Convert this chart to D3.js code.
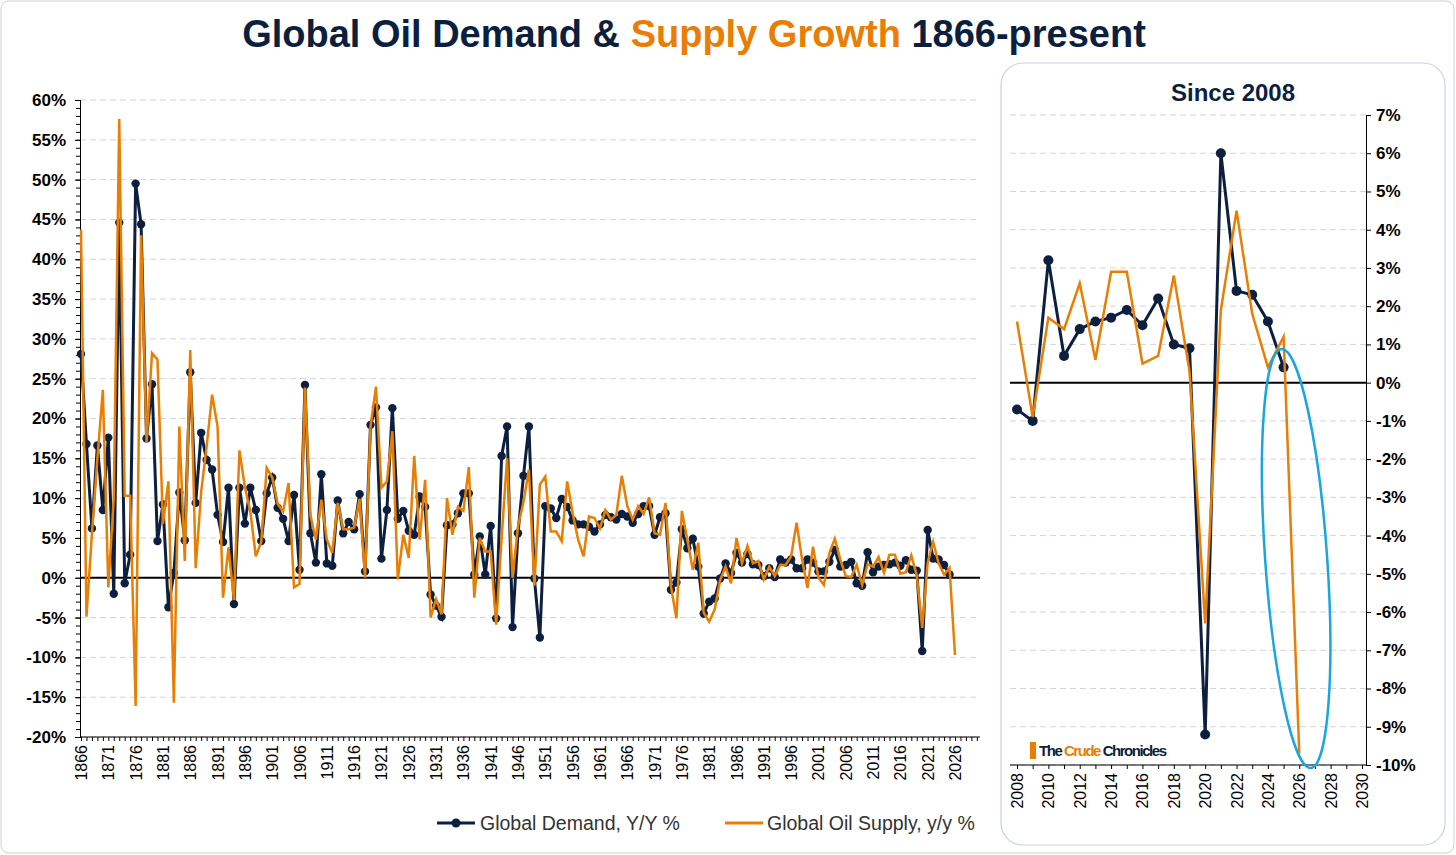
<!DOCTYPE html>
<html>
<head>
<meta charset="utf-8"/>
<script src="https://d3js.org/d3.v7.min.js"></script>
<style>
  body { margin: 0; background: #fff; font-family: "Liberation Sans", Arial, sans-serif; }
  text { font-family: "Liberation Sans", Arial, sans-serif; }
</style>
</head>
<body>
<svg id="chart" width="1456" height="855"></svg>
<script>
  // demand 1866..2025, supply 1866..2026 (y/y %)
  const demandYears = d3.range(1866, 2026);
  const supplyYears = d3.range(1866, 2027);
  const demand = [
    28.1,16.8,6.2,16.6,8.5,17.6,-2.0,44.6,-0.7,2.9,
    49.5,44.4,17.5,24.3,4.6,9.2,-3.7,0.6,10.7,4.7,
    25.8,9.4,18.2,14.8,13.6,7.9,4.5,11.3,-3.3,11.3,
    6.8,11.3,8.5,4.6,10.6,12.6,8.8,7.4,4.6,10.4,
    1.0,24.2,5.6,1.9,13.0,1.8,1.5,9.7,5.6,7.0,
    6.1,10.5,0.8,19.2,21.4,2.4,8.5,21.3,7.4,8.4,
    5.9,5.4,10.2,8.9,-2.1,-3.5,-4.9,6.6,6.7,8.1,
    10.6,10.6,0.4,5.2,0.4,6.5,-5.1,15.3,19.0,-6.2,
    5.6,12.8,19.0,-0.1,-7.5,9.0,8.7,7.5,9.9,8.9,
    7.2,6.7,6.7,6.4,5.8,6.7,7.9,7.6,7.3,8.0,
    7.7,6.9,8.0,9.0,9.0,5.4,7.6,8.1,-1.5,-0.6,
    6.1,3.7,4.9,1.4,-4.5,-3.0,-2.6,-0.1,1.8,0.6,
    3.1,1.9,3.0,1.7,1.6,0.2,1.2,0.1,2.3,1.9,
    2.3,1.2,1.2,2.3,1.9,0.8,0.8,2.0,3.5,1.4,
    1.6,2.0,-0.7,-1.0,3.2,0.7,1.4,1.6,1.7,1.9,
    1.5,2.2,1.0,0.9,-9.2,6.0,2.4,2.3,1.6,0.4
  ];
  const supply = [
    43.7,-4.9,5.5,15.0,23.6,-1.2,10.0,57.6,10.3,10.3,
    -16.1,43.0,17.0,28.2,27.4,6.8,12.1,-15.7,19.0,2.1,
    28.6,1.2,10.8,16.5,23.0,19.0,-2.5,3.8,-2.8,16.0,
    11.4,8.3,2.7,4.5,13.8,12.6,9.3,8.3,11.9,-1.2,
    -0.8,23.9,7.8,4.8,9.8,4.8,3.1,9.4,6.1,6.1,
    6.3,9.9,0.0,19.0,24.0,11.3,12.1,18.4,-0.2,5.4,
    2.5,15.3,4.8,12.3,-5.0,-2.7,-4.6,10.0,5.4,8.9,
    8.4,13.9,-2.5,5.0,3.3,3.3,-5.9,5.0,15.0,0.0,
    6.5,9.5,13.6,-1.0,11.7,12.7,5.8,5.8,4.6,12.1,
    8.1,4.8,2.7,7.7,7.5,6.2,8.5,7.3,7.9,12.8,
    9.0,7.3,9.0,8.0,10.1,5.6,5.4,9.4,-1.1,-5.1,
    8.4,4.8,1.0,4.4,-4.4,-5.5,-4.0,-0.3,1.4,-0.7,
    5.0,1.8,4.0,1.8,2.1,-0.2,1.4,0.2,1.6,1.6,
    2.7,6.9,2.3,-1.3,3.9,0.0,-0.9,3.1,4.9,2.3,
    0.2,0.1,1.6,-0.9,1.7,1.4,2.6,0.6,2.9,2.9,
    0.5,0.7,2.8,0.3,-6.3,1.9,4.5,1.8,0.4,1.2,
    -9.7
  ];
  const mainTicksY = d3.range(-20, 61, 5);
  const mainTicksX = d3.range(1866, 2027, 5);
  const insetTicksY = d3.range(-10, 8, 1);
  const insetTicksX = d3.range(2008, 2031, 2);

  const navy = "#0c1f3f", orange = "#e87e04";
  const svg = d3.select("#chart");

  // outer frame
  svg.append("rect").attr("x", 1).attr("y", 1).attr("width", 1453).attr("height", 852)
    .attr("rx", 8).attr("fill", "#fff").attr("stroke", "#d0d0d0");

  // title
  const title = svg.append("text").attr("x", 694).attr("y", 47).attr("text-anchor", "middle")
    .attr("font-size", 38).attr("font-weight", "bold").attr("fill", navy);
  title.append("tspan").text("Global Oil Demand & ");
  title.append("tspan").attr("fill", orange).text("Supply Growth");
  title.append("tspan").text(" 1866-present");

  // ---- main chart
  const x = d3.scaleLinear().domain([1866, 2026]).range([81, 955]);
  const y = d3.scaleLinear().domain([-20, 60]).range([737, 100]);
  const main = svg.append("g");

  main.selectAll("line.grid").data(mainTicksY.filter(d => d !== 0)).join("line")
    .attr("x1", 80).attr("x2", 980).attr("y1", d => y(d)).attr("y2", d => y(d))
    .attr("stroke", "#d4d4d4").attr("stroke-dasharray", "6,4");

  const yAxis = main.append("g").attr("transform", "translate(80,0)")
    .call(d3.axisLeft(y).tickValues(mainTicksY).tickSize(5).tickFormat(d => d + "%"));
  yAxis.append("g").call(d3.axisLeft(y).tickValues(d3.range(-20, 61, 1)).tickSize(4).tickFormat(""));
  yAxis.selectAll("text").attr("font-size", 17).attr("font-weight", "bold").attr("fill", "#000")
    .attr("x", -14);
  yAxis.selectAll(".domain, line").attr("stroke", "#000");

  const xAxis = main.append("g").attr("transform", `translate(0,${y(-20)})`)
    .call(d3.axisBottom(x).tickValues(d3.range(1866, 2031)).tickSize(4).tickFormat(""));
  xAxis.select(".domain").attr("d", "M80,0H980");
  xAxis.selectAll("line, .domain").attr("stroke", "#000");
  main.selectAll("text.xl").data(mainTicksX).join("text")
    .attr("transform", d => `translate(${x(d) + 6},${y(-20) + 8}) rotate(-90)`)
    .attr("text-anchor", "end").attr("font-size", 16).attr("fill", "#000").text(d => d);

  main.append("line").attr("x1", 80).attr("x2", 980).attr("y1", y(0)).attr("y2", y(0))
    .attr("stroke", "#000").attr("stroke-width", 2);

  const dLine = d3.line().x((d, i) => x(demandYears[i])).y(d => y(d));
  const sLine = d3.line().x((d, i) => x(supplyYears[i])).y(d => y(d));
  main.append("path").attr("d", dLine(demand)).attr("fill", "none").attr("stroke", navy).attr("stroke-width", 3);
  main.selectAll("circle.d").data(demand).join("circle")
    .attr("cx", (d, i) => x(demandYears[i])).attr("cy", d => y(d)).attr("r", 4.2).attr("fill", navy);
  main.append("path").attr("d", sLine(supply)).attr("fill", "none").attr("stroke", orange).attr("stroke-width", 2.5);

  // legend
  const lg = svg.append("g").attr("transform", "translate(0,823)");
  lg.append("line").attr("x1", 437).attr("x2", 475).attr("stroke", navy).attr("stroke-width", 3);
  lg.append("circle").attr("cx", 456).attr("r", 4.5).attr("fill", navy);
  lg.append("text").attr("x", 480).attr("y", 7).attr("font-size", 19.5).attr("fill", "#333").text("Global Demand, Y/Y %");
  lg.append("line").attr("x1", 725).attr("x2", 763).attr("stroke", orange).attr("stroke-width", 3);
  lg.append("text").attr("x", 767).attr("y", 7).attr("font-size", 19.5).attr("fill", "#333").text("Global Oil Supply, y/y %");

  // ---- inset
  svg.append("rect").attr("x", 1001).attr("y", 63).attr("width", 444).attr("height", 782)
    .attr("rx", 22).attr("fill", "#fff").attr("stroke", "#c9d3e0").attr("stroke-width", 1.2);
  svg.append("text").attr("x", 1233).attr("y", 101).attr("text-anchor", "middle")
    .attr("font-size", 24).attr("font-weight", "bold").attr("fill", navy).text("Since 2008");

  const ix = d3.scaleLinear().domain([2008, 2030]).range([1017, 1362]);
  const iy = d3.scaleLinear().domain([-10, 7]).range([765, 115]);
  const inset = svg.append("g");
  inset.selectAll("line.grid").data(insetTicksY.filter(d => d !== 0)).join("line")
    .attr("x1", 1010).attr("x2", 1366).attr("y1", d => iy(d)).attr("y2", d => iy(d))
    .attr("stroke", "#d4d4d4").attr("stroke-dasharray", "6,4");
  const iyAxis = inset.append("g").attr("transform", "translate(1366,0)")
    .call(d3.axisRight(iy).tickValues(insetTicksY).tickSize(5).tickFormat(d => d + "%"));
  iyAxis.selectAll("text").attr("font-size", 17).attr("font-weight", "bold").attr("fill", "#000").attr("x", 10);
  iyAxis.selectAll(".domain, line").attr("stroke", "#000");
  const ixAxis = inset.append("g").attr("transform", `translate(0,${iy(-10)})`)
    .call(d3.axisBottom(ix).tickValues(d3.range(2008, 2031)).tickSize(4).tickFormat(""));
  ixAxis.select(".domain").attr("d", "M1010,0H1366");
  ixAxis.selectAll("line, .domain").attr("stroke", "#000");
  inset.selectAll("text.xl").data(insetTicksX).join("text")
    .attr("transform", d => `translate(${ix(d) + 6},${iy(-10) + 8}) rotate(-90)`)
    .attr("text-anchor", "end").attr("font-size", 16).attr("fill", "#000").text(d => d);
  inset.append("line").attr("x1", 1010).attr("x2", 1366).attr("y1", iy(0)).attr("y2", iy(0))
    .attr("stroke", "#000").attr("stroke-width", 2);

  const dIdx = demandYears.map((yr, i) => i).filter(i => demandYears[i] >= 2008);
  const sIdx = supplyYears.map((yr, i) => i).filter(i => supplyYears[i] >= 2008);
  const iD = d3.line().x(i => ix(demandYears[i])).y(i => iy(demand[i]));
  const iS = d3.line().x(i => ix(supplyYears[i])).y(i => iy(supply[i]));
  inset.append("path").attr("d", iD(dIdx)).attr("fill", "none").attr("stroke", navy).attr("stroke-width", 3);
  inset.selectAll("circle.d").data(dIdx).join("circle")
    .attr("cx", i => ix(demandYears[i])).attr("cy", i => iy(demand[i])).attr("r", 5).attr("fill", navy);
  inset.append("path").attr("d", iS(sIdx)).attr("fill", "none").attr("stroke", orange).attr("stroke-width", 2.5);

  // highlight ellipse
  inset.append("ellipse").attr("cx", ix(2025.8)).attr("cy", iy(-4.6)).attr("rx", 31).attr("ry", 210)
    .attr("transform", `rotate(-4,${ix(2025.8)},${iy(-4.6)})`)
    .attr("fill", "none").attr("stroke", "#19a6e0").attr("stroke-width", 2.5);

  // logo
  const logo = svg.append("g").attr("transform", "translate(1030,756)");
  logo.append("rect").attr("x", 0).attr("y", -14).attr("width", 6).attr("height", 17).attr("fill", orange);
  const lt = logo.append("text").attr("x", 9).attr("y", 0).attr("font-size", 15).attr("font-weight", "bold")
    .attr("font-family", "'DejaVu Serif', serif").attr("fill", navy).attr("textLength", 128);
  lt.append("tspan").text("The ");
  lt.append("tspan").attr("fill", orange).text("Crude");
  lt.append("tspan").text(" Chronicles");
</script>
</body>
</html>
